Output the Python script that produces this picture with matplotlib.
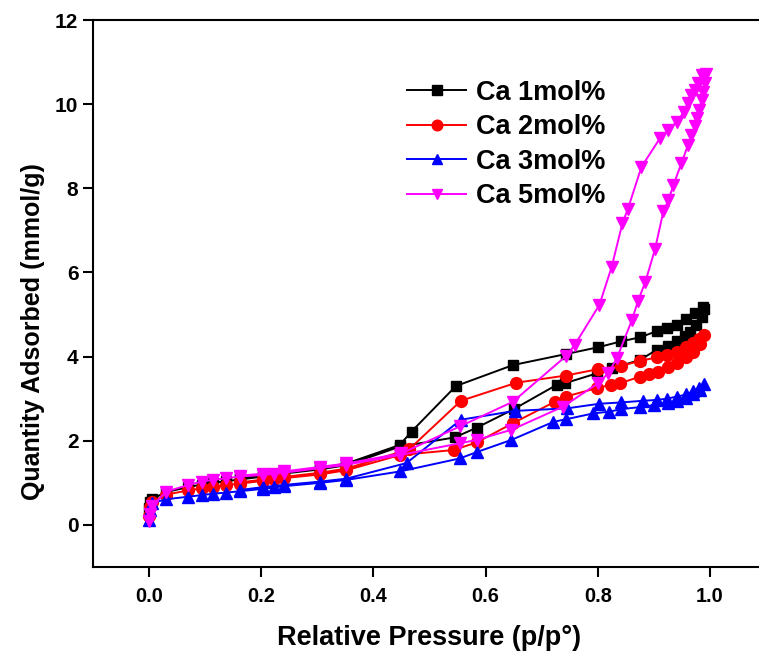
import matplotlib
matplotlib.use("Agg")
import matplotlib.pyplot as plt

plt.rcParams['font.family'] = ['Liberation Sans', 'DejaVu Sans']

# Relative pressure points (adsorption branch, low-pressure part shared by all samples)
p_low = [0.0005, 0.002, 0.006, 0.03, 0.07, 0.094, 0.114, 0.138, 0.162,
         0.204, 0.222, 0.24, 0.305, 0.352, 0.447]
p_des_low = [0.352, 0.305, 0.24, 0.204, 0.162]

# Ca 1mol%
ca1_ads_x = p_low + [0.545, 0.584, 0.65, 0.727, 0.742, 0.798, 0.825, 0.875,
                     0.905, 0.925, 0.941, 0.955, 0.964, 0.975, 0.985, 0.99]
ca1_ads_y = [0.40, 0.55, 0.62, 0.78, 0.90, 0.96, 1.00, 1.04, 1.08, 1.15, 1.18,
             1.22, 1.32, 1.42, 1.86,
             2.08, 2.31, 2.75, 3.33, 3.37, 3.60, 3.72, 3.92, 4.16, 4.25, 4.36,
             4.48, 4.59, 4.75, 4.95, 5.12]
ca1_des_x = [0.988, 0.973, 0.958, 0.941, 0.923, 0.906, 0.876, 0.841, 0.80,
             0.743, 0.649, 0.547, 0.468, 0.447] + p_des_low
ca1_des_y = [5.17, 5.03, 4.89, 4.75, 4.67, 4.61, 4.46, 4.36, 4.22, 4.06, 3.80,
             3.30, 2.22, 1.90, 1.46, 1.35, 1.25, 1.18, 1.11]

# Ca 2mol%
ca2_ads_x = p_low + [0.543, 0.584, 0.649, 0.724, 0.743, 0.798, 0.823, 0.840,
                     0.875, 0.892, 0.908, 0.925, 0.941, 0.958, 0.970, 0.982, 0.99]
ca2_ads_y = [0.22, 0.42, 0.55, 0.72, 0.82, 0.87, 0.91, 0.95, 0.98, 1.05, 1.08,
             1.11, 1.20, 1.30, 1.66,
             1.78, 1.96, 2.42, 2.93, 3.05, 3.25, 3.33, 3.37, 3.52, 3.58, 3.64,
             3.75, 3.85, 3.98, 4.12, 4.30, 4.52]
ca2_des_x = [0.98, 0.97, 0.958, 0.941, 0.923, 0.905, 0.876, 0.842, 0.80,
             0.743, 0.655, 0.556, 0.464] + p_des_low
ca2_des_y = [4.42, 4.32, 4.22, 4.12, 4.05, 3.98, 3.90, 3.78, 3.70, 3.55, 3.38,
             2.95, 1.80, 1.34, 1.24, 1.14, 1.08, 1.01]

# Ca 3mol%
ca3_ads_x = p_low + [0.554, 0.584, 0.646, 0.721, 0.743, 0.792, 0.820, 0.841,
                     0.875, 0.90, 0.925, 0.941, 0.958, 0.970, 0.982, 0.99]
ca3_ads_y = [0.12, 0.35, 0.52, 0.61, 0.67, 0.71, 0.74, 0.77, 0.80, 0.86, 0.89,
             0.92, 1.00, 1.07, 1.27,
             1.58, 1.73, 2.02, 2.45, 2.51, 2.65, 2.69, 2.75, 2.80, 2.85, 2.90,
             2.95, 3.02, 3.10, 3.20, 3.35]
ca3_des_x = [0.98, 0.97, 0.958, 0.941, 0.923, 0.905, 0.880, 0.841, 0.803,
             0.745, 0.652, 0.556, 0.459] + p_des_low
ca3_des_y = [3.26, 3.18, 3.10, 3.05, 3.00, 2.97, 2.95, 2.91, 2.88, 2.77, 2.71,
             2.50, 1.47, 1.10, 1.03, 0.95, 0.90, 0.83]

# Ca 5mol%
ca5_ads_x = p_low + [0.554, 0.584, 0.646, 0.738, 0.801, 0.819, 0.834, 0.861,
                     0.872, 0.885, 0.902, 0.917, 0.926, 0.935, 0.949, 0.961,
                     0.967, 0.973, 0.977, 0.981, 0.985, 0.988, 0.991, 0.993]
ca5_ads_y = [0.10, 0.25, 0.45, 0.79, 0.95, 1.03, 1.07, 1.11, 1.15, 1.19, 1.21,
             1.24, 1.35, 1.43, 1.66,
             1.94, 2.02, 2.26, 2.81, 3.37, 3.61, 3.96, 4.87, 5.33, 5.78, 6.55,
             7.45, 7.72, 8.08, 8.59, 9.03, 9.27, 9.47, 9.66, 9.86, 10.10,
             10.30, 10.50, 10.72]
ca5_des_x = [0.985, 0.979, 0.973, 0.967, 0.961, 0.954, 0.941, 0.926, 0.911,
             0.878, 0.854, 0.844, 0.825, 0.803, 0.759, 0.744, 0.649, 0.554,
             0.450] + p_des_low
ca5_des_y = [10.69, 10.50, 10.34, 10.22, 10.02, 9.82, 9.58, 9.39, 9.19, 8.51,
             7.52, 7.17, 6.14, 5.23, 4.28, 4.02, 2.93, 2.34, 1.70, 1.46, 1.38,
             1.27, 1.22, 1.17]

labels = ['Ca 1mol%', 'Ca 2mol%', 'Ca 3mol%', 'Ca 5mol%']
colors = ['black', 'red', 'blue', 'magenta']
markers = ['s', 'o', '^', 'v']
sizes = [7.5, 8.5, 8.5, 8.5]

series = [
    (ca1_ads_x + ca1_des_x, ca1_ads_y + ca1_des_y),
    (ca2_ads_x + ca2_des_x, ca2_ads_y + ca2_des_y),
    (ca3_ads_x + ca3_des_x, ca3_ads_y + ca3_des_y),
    (ca5_ads_x + ca5_des_x, ca5_ads_y + ca5_des_y),
]

fig = plt.figure(figsize=(7.59, 6.54), dpi=100)
# the frame runs past the right edge of the canvas, so no right spine shows
ax = fig.add_axes([93 / 759, 87 / 654, 673 / 759, 547 / 654])

for (x, y), lab, c, m, s in zip(series, labels, colors, markers, sizes):
    ax.plot(x, y, color=c, marker=m, markersize=s, linewidth=1.4,
            label=lab, clip_on=False)

ax.set_xlim(-0.1, 1.1)
ax.set_ylim(-1, 12)
ax.set_xticks([0.0, 0.2, 0.4, 0.6, 0.8, 1.0])
ax.set_yticks([0, 2, 4, 6, 8, 10, 12])
ax.set_xticklabels(['0.0', '0.2', '0.4', '0.6', '0.8', '1.0'])

for sp in ax.spines.values():
    sp.set_linewidth(1.5)
ax.tick_params(axis='x', direction='out', length=7, width=1.5,
               labelsize=14.3, pad=7.5)
ax.tick_params(axis='y', direction='out', length=7, width=1.5,
               labelsize=15, pad=3.5)
for t in ax.get_xticklabels() + ax.get_yticklabels():
    t.set_fontweight('bold')

ax.set_xlabel('Relative Pressure (p/p°)', fontsize=19.5, fontweight='bold')
ax.set_ylabel('Quantity Adsorbed (mmol/g)', fontsize=18, fontweight='bold')
ax.xaxis.set_label_coords(0.5, -0.106)
ax.yaxis.set_label_coords(-0.072, 0.431)

leg = ax.legend(loc='upper left', bbox_to_anchor=(0.43, 0.935), frameon=False,
                prop={'size': 19.5, 'weight': 'bold'}, handlelength=2.2,
                handletextpad=0.37, labelspacing=0.31, markerscale=0.9)

fig.savefig('out.png', dpi=100)
